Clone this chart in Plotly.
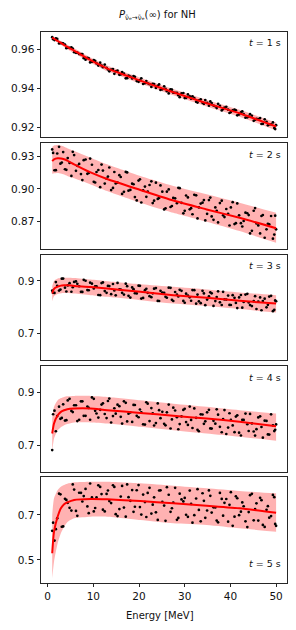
import plotly.graph_objects as go

# ---------------- data ----------------
E_GRID = [1, 1.4, 2.2, 2.9, 3.6, 4.3, 5.8, 9.4, 13, 20.3, 27.5, 34.8, 42, 50]

MEAN_T1 = [.9660, .9654, .9643, .9633, .9622, .9612, .9593, .9545, .9503, .9440, .9381, .9325, .9274, .9206]
UP_T1 = [.9668, .9662, .9652, .9643, .9632, .9623, .9605, .9558, .9517, .9455, .9397, .9342, .9292, .9226]
LO_T1 = [.9652, .9646, .9634, .9623, .9612, .9601, .9581, .9532, .9489, .9425, .9365, .9308, .9256, .9186]

MEAN_T2 = [.9254, .9270, .9279, .9277, .9270, .9258, .9224, .9150, .9090, .8990, .8893, .8812, .8735, .8640]
UP_T2 = [.9382, .9395, .9400, .9395, .9385, .9372, .9346, .9285, .9224, .9117, .9026, .8950, .8873, .8781]
LO_T2 = [.9138, .9142, .9145, .9140, .9130, .9118, .9096, .9040, .8980, .8873, .8781, .8699, .8614, .8507]

MEAN_T3 = [.852, .870, .878, .882, .8835, .8838, .8811, .877, .871, .8585, .846, .8358, .8245, .8144]
UP_T3 = [.880, .900, .909, .911, .912, .912, .911, .905, .899, .8875, .8774, .8673, .856, .846]
LO_T3 = [.823, .842, .850, .853, .854, .854, .852, .846, .8396, .827, .8144, .8045, .7932, .780]

MEAN_T4 = [.744, .782, .813, .826, .832, .836, .8385, .8385, .832, .822, .811, .8008, .7883, .7717]
UP_T4 = [.8008, .845, .870, .878, .8826, .885, .8864, .886, .8826, .870, .857, .845, .832, .8196]
LO_T4 = [.675, .725, .7566, .768, .7755, .780, .7857, .786, .782, .7694, .7566, .7441, .7317, .7166]

MEAN_T5 = [.530, .626, .693, .730, .748, .756, .7667, .771, .7696, .7622, .752, .7415, .7296, .710]
UP_T5 = [.700, .774, .811, .826, .8333, .839, .8452, .848, .848, .8407, .830, .8185, .8067, .7963]
LO_T5 = [.4187, .4926, .5741, .6187, .648, .668, .6852, .6926, .6926, .6778, .663, .6556, .6407, .626]

SCAT_E = [1.0, 1.5, 2.1, 2.8, 3.4, 4.1, 4.8, 5.5, 6.2, 6.9, 7.6, 8.3, 9.0, 9.7, 10.4, 11.1, 11.8, 12.5,
          13.2, 13.9, 14.6, 15.3, 16.0, 16.7, 17.4, 18.1, 18.8, 19.5, 20.2, 20.9, 21.6, 22.3, 23.0, 23.7,
          24.4, 25.1, 25.8, 26.5, 27.2, 27.9, 28.6, 29.3, 30.0, 30.7, 31.4, 32.1, 32.8, 33.5, 34.2, 34.9,
          35.6, 36.3, 37.0, 37.7, 38.4, 39.1, 39.8, 40.5, 41.2, 41.9, 42.6, 43.3, 44.0, 44.7, 45.4, 46.1,
          46.8, 47.5, 48.2, 48.9, 49.6, 50.0]
SCAT_E2 = [1.2, 1.8, 2.5, 3.1, 3.8, 4.4, 5.2, 5.8, 6.5, 7.3, 7.9, 8.7, 9.3, 10.1, 10.7, 11.5, 12.1, 12.9,
           13.5, 14.3, 14.9, 15.7, 16.3, 17.1, 17.7, 18.5, 19.1, 19.9, 20.5, 21.3, 21.9, 22.7, 23.3, 24.1,
           24.7, 25.5, 26.1, 26.9, 27.5, 28.3, 28.9, 29.7, 30.3, 31.1, 31.7, 32.5, 33.1, 33.9, 34.5, 35.3,
           35.9, 36.7, 37.3, 38.1, 38.7, 39.5, 40.1, 40.9, 41.5, 42.3, 42.9, 43.7, 44.3, 45.1, 45.7, 46.5,
           47.1, 47.9, 48.5, 49.3, 49.8]

SCAT_T1 = [.9662, .9647, .9653, .9632, .9630, .9606, .9607, .9604, .9582, .9576, .9576, .9547, .9554, .9536,
           .9541, .9517, .9517, .9522, .9497, .9497, .9475, .9491, .9472, .9476, .9453, .9461, .9464, .9438,
           .9442, .9423, .9438, .9422, .9424, .9403, .9421, .9396, .9398, .9375, .9394, .9378, .9366, .9375,
           .9351, .9370, .9348, .9351, .9328, .9345, .9322, .9327, .9334, .9313, .9300, .9312, .9295, .9307,
           .9275, .9288, .9289, .9268, .9283, .9251, .9257, .9261, .9241, .9244, .9219, .9243, .9212, .9217,
           .9198, .9213]
SCAT2_T1 = [.9652, .9656, .9630, .9632, .9624, .9608, .9610, .9585, .9583, .9576, .9555, .9556, .9533, .9545,
            .9528, .9532, .9509, .9506, .9488, .9499, .9488, .9470, .9484, .9452, .9466, .9451, .9460, .9434,
            .9452, .9427, .9427, .9408, .9423, .9414, .9393, .9411, .9386, .9396, .9379, .9378, .9356, .9377,
            .9352, .9360, .9360, .9332, .9340, .9327, .9341, .9312, .9326, .9309, .9322, .9288, .9303, .9292,
            .9280, .9292, .9263, .9278, .9269, .9253, .9269, .9235, .9245, .9249, .9220, .9230, .9217, .9227,
            .9193]

SCAT_T2 = [.9360, .9170, .9323, .9230, .9336, .9174, .9237, .9338, .9165, .9228, .9080, .9268, .9145, .9220,
           .9058, .9172, .9222, .9048, .9112, .8989, .9154, .9056, .9108, .8973, .9150, .8990, .9042, .8894,
           .9087, .8987, .8927, .9035, .8870, .9056, .8917, .8974, .8822, .8995, .8843, .8913, .9009, .8872,
           .8799, .8922, .8823, .8945, .8730, .8865, .8897, .8772, .8920, .8717, .8800, .8870, .8758, .8816,
           .8665, .8878, .8686, .8758, .8656, .8782, .8760, .8616, .8824, .8666, .8752, .8553, .8680, .8752,
           .8582, .8630]
SCAT2_T2 = [.9328, .9171, .9384, .9240, .9179, .9281, .9118, .9309, .9210, .9135, .9262, .9137, .9277, .9064,
            .9154, .9015, .9167, .9092, .9195, .9008, .9049, .9125, .8954, .9155, .8983, .9047, .8925, .9076,
            .8875, .9021, .8975, .9069, .8892, .8908, .9031, .8812, .8974, .8834, .8917, .8869, .9006, .8776,
            .8939, .8813, .8768, .8941, .8830, .8874, .8711, .8897, .8748, .8830, .8693, .8892, .8742, .8772,
            .8830, .8678, .8867, .8686, .8706, .8777, .8593, .8800, .8684, .8593, .8761, .8630, .8676, .8545,
            .8755]

SCAT_T3 = [.8629, .8546, .8814, .8672, .9089, .8598, .8912, .8760, .8982, .8797, .8582, .9005, .8646, .8895,
           .8796, .8465, .8917, .8615, .8810, .8498, .8637, .8925, .8673, .8482, .8800, .8369, .8687, .8526,
           .8815, .8354, .8702, .8421, .8530, .8729, .8238, .8557, .8396, .8745, .8284, .8580, .8413, .8623,
           .8173, .8447, .8248, .8648, .8481, .8157, .8525, .8294, .8566, .8052, .8387, .8187, .8586, .8291,
           .8091, .8458, .8164, .8374, .7985, .8483, .8185, .8047, .8421, .8219, .7888, .8326, .8092, .8434,
           .7905, .8229]
SCAT2_T3 = [.8552, .8956, .8632, .9084, .8743, .8829, .8589, .8960, .8890, .8587, .9041, .8651, .8931, .8714,
            .8791, .8458, .8941, .8550, .8805, .8882, .8452, .8679, .8549, .8896, .8436, .8753, .8533, .8820,
            .8330, .8647, .8548, .8385, .8705, .8243, .8623, .8551, .8361, .8739, .8238, .8480, .8661, .8240,
            .8516, .8379, .8654, .8139, .8225, .8623, .8079, .8414, .8531, .8235, .8604, .8087, .8298, .8443,
            .8087, .8358, .7970, .8466, .8201, .8509, .8085, .8233, .7936, .8373, .8236, .8000, .8408, .7852,
            .8261]

SCAT_T4 = [.6813, .8305, .8098, .7996, .8543, .7944, .8753, .8251, .8510, .7960, .8660, .8110, .8410, .8807,
           .8300, .8043, .8535, .8178, .8670, .7857, .8395, .8533, .8071, .8659, .7897, .8235, .8523, .8110,
           .8348, .7786, .8624, .7911, .8199, .7836, .8324, .8261, .7749, .8536, .7973, .8311, .7600, .8088,
           .8376, .7764, .7952, .8391, .7579, .8167, .7805, .8243, .7631, .7919, .8356, .7694, .7982, .7420,
           .8207, .7745, .8082, .7470, .7958, .8196, .7534, .7822, .7360, .8048, .7686, .7924, .7403, .8164,
           .7533, .7784]
SCAT2_T4 = [.8169, .7524, .8455, .8029, .7929, .8691, .8295, .8510, .7910, .8660, .8110, .8460, .7960, .8753,
            .8197, .8338, .8582, .8024, .8764, .8100, .8190, .8476, .7816, .8602, .8192, .7878, .8518, .8054,
            .8243, .7779, .8568, .8404, .7743, .8579, .8018, .7804, .8243, .7629, .8418, .8055, .7795, .8331,
            .7871, .8458, .7648, .8034, .7524, .8160, .7900, .8336, .7626, .7812, .8151, .7487, .8327, .7663,
            .7952, .7488, .8127, .7363, .7953, .7789, .8179, .7515, .7605, .8091, .7281, .7917, .7398, .7745,
            .7581]

SCAT_T5 = [.6294, .586, .685, .792, .649, .767, .732, .836, .718, .799, .760, .816, .708, .778, .731, .832,
           .793, .716, .809, .753, .825, .695, .782, .733, .836, .763, .714, .810, .735, .791, .691, .821,
           .746, .712, .809, .758, .674, .790, .730, .821, .687, .769, .776, .692, .749, .699, .815, .672,
           .763, .720, .785, .734, .675, .798, .697, .771, .745, .652, .783, .699, .756, .672, .713, .794,
           .726, .675, .766, .647, .739, .695, .779, .652]
SCAT2_T5 = [.666, .637, .795, .6476, .7717, .7543, .7195, .8132, .6962, .7984, .7842, .7383, .8401, .7159,
            .7781, .8247, .7237, .7936, .7617, .8323, .7034, .7262, .8293, .6925, .7794, .8110, .7367, .8332,
            .7019, .7575, .7981, .7061, .7785, .6782, .8097, .7417, .8239, .7141, .7549, .6787, .7948, .7603,
            .7011, .8086, .6659, .7734, .7225, .7967, .6875, .8094, .7106, .7335, .6672, .7716, .7543, .6702,
            .8015, .6925, .7744, .7149, .7389, .6463, .7882, .6763, .7519, .7763, .6560, .7230, .6880, .7890,
            .6604]

TIME_LABELS = ["1", "2", "3", "4", "5"]
X_TICKS = [0, 10, 20, 30, 40, 50]

# ---------------- figure ----------------
# the page body has an 8 px margin, so the figure is 8 px smaller and all
# pixel positions are measured from the figure's own corner
OFF = 8
W, H = 296 - OFF, 630 - OFF
X0, X1 = 41.0 - OFF, 287.3 - OFF
TOP0, PH, GAP = 31.7 - OFF, 105.6, 5.8
FONT = "DejaVu Sans"
AX_COLOR = "#262626"

panels = [
    dict(mean=MEAN_T1, up=UP_T1, lo=LO_T1, sc=SCAT_T1, sc2=SCAT2_T1, yr=[0.9151, 0.969],
         tv=[0.92, 0.94, 0.96], tt=["0.92", "0.94", "0.96"], top=True),
    dict(mean=MEAN_T2, up=UP_T2, lo=LO_T2, sc=SCAT_T2, sc2=SCAT2_T2, yr=[0.8453, 0.9418],
         tv=[0.87, 0.90, 0.93], tt=["0.87", "0.90", "0.93"], top=True),
    dict(mean=MEAN_T3, up=UP_T3, lo=LO_T3, sc=SCAT_T3, sc2=SCAT2_T3, yr=[0.60, 1.00],
         tv=[0.7, 0.9], tt=["0.7", "0.9"], top=True),
    dict(mean=MEAN_T4, up=UP_T4, lo=LO_T4, sc=SCAT_T4, sc2=SCAT2_T4, yr=[0.60, 1.00],
         tv=[0.7, 0.9], tt=["0.7", "0.9"], top=True),
    dict(mean=MEAN_T5, up=UP_T5, lo=LO_T5, sc=SCAT_T5, sc2=SCAT2_T5, yr=[0.398, 0.8676],
         tv=[0.5, 0.7], tt=["0.5", "0.7"], top=False),
]

fig = go.Figure()
annotations = []
layout_axes = {}
for i, p in enumerate(panels):
    n = i + 1
    xa = "x" if n == 1 else f"x{n}"
    ya = "y" if n == 1 else f"y{n}"
    common = dict(xaxis=xa, yaxis=ya, showlegend=False, hoverinfo="skip")
    fig.add_trace(go.Scatter(x=E_GRID, y=p["lo"], mode="lines",
                             line=dict(width=0, shape="spline", smoothing=0.6), **common))
    fig.add_trace(go.Scatter(x=E_GRID, y=p["up"], mode="lines",
                             line=dict(width=0, shape="spline", smoothing=0.6),
                             fill="tonexty", fillcolor="rgba(255,0,0,0.3)", **common))
    for ex, sy in ((SCAT_E, p["sc"]), (SCAT_E2, p["sc2"])):
        fig.add_trace(go.Scatter(x=ex, y=sy, mode="markers",
                                 marker=dict(size=2.7, color="black", line=dict(width=0)), **common))
    fig.add_trace(go.Scatter(x=E_GRID, y=p["mean"], mode="lines",
                             line=dict(color="red", width=2, shape="spline", smoothing=0.6), **common))

    top = TOP0 + i * (PH + GAP)
    bot = top + PH
    last = (n == 5)
    layout_axes["xaxis" if n == 1 else f"xaxis{n}"] = dict(
        domain=[X0 / W, X1 / W], range=[-1.45, 52.45], anchor=ya,
        showline=True, mirror=True, linecolor=AX_COLOR, linewidth=1,
        showgrid=False, zeroline=False,
        ticks="outside" if last else "", ticklen=3.5, tickwidth=0.8, tickcolor=AX_COLOR,
        tickvals=X_TICKS, showticklabels=last,
        tickfont=dict(family=FONT, size=10.5, color="#111"),
    )
    layout_axes["yaxis" if n == 1 else f"yaxis{n}"] = dict(
        domain=[1 - bot / H, 1 - top / H], range=p["yr"], anchor=xa,
        showline=True, mirror=True, linecolor=AX_COLOR, linewidth=1,
        showgrid=False, zeroline=False,
        ticks="outside", ticklen=3.5, tickwidth=0.8, tickcolor=AX_COLOR,
        tickvals=p["tv"], ticktext=p["tt"],
        tickfont=dict(family=FONT, size=10.5, color="#111"),
    )
    ylab = top + 11.3 if p["top"] else bot - 19
    annotations.append(dict(
        text=f"<i>t</i> = {TIME_LABELS[i]} s", xref="paper", yref="paper",
        x=(283 - OFF) / W, y=1 - ylab / H, xanchor="right", yanchor="middle", showarrow=False,
        font=dict(family=FONT, size=9.5, color="#111")))

annotations.append(dict(
    text="<i>P</i><sub>ν̄ₑ→ν̄ₑ</sub>(∞) for NH", xref="paper", yref="paper",
    x=(157 - OFF) / W, y=1 - (15.5 - OFF) / H, xanchor="center", yanchor="middle", showarrow=False,
    font=dict(family=FONT, size=10, color="#111")))
annotations.append(dict(
    text="Energy [MeV]", xref="paper", yref="paper",
    x=(160 - OFF) / W, y=1 - (615.5 - OFF) / H, xanchor="center", yanchor="middle", showarrow=False,
    font=dict(family=FONT, size=10, color="#111")))

fig.update_layout(
    width=W, height=H, margin=dict(l=0, r=0, t=0, b=0),
    paper_bgcolor="white", plot_bgcolor="white",
    annotations=annotations, **layout_axes,
)

fig.write_html("out.html")
